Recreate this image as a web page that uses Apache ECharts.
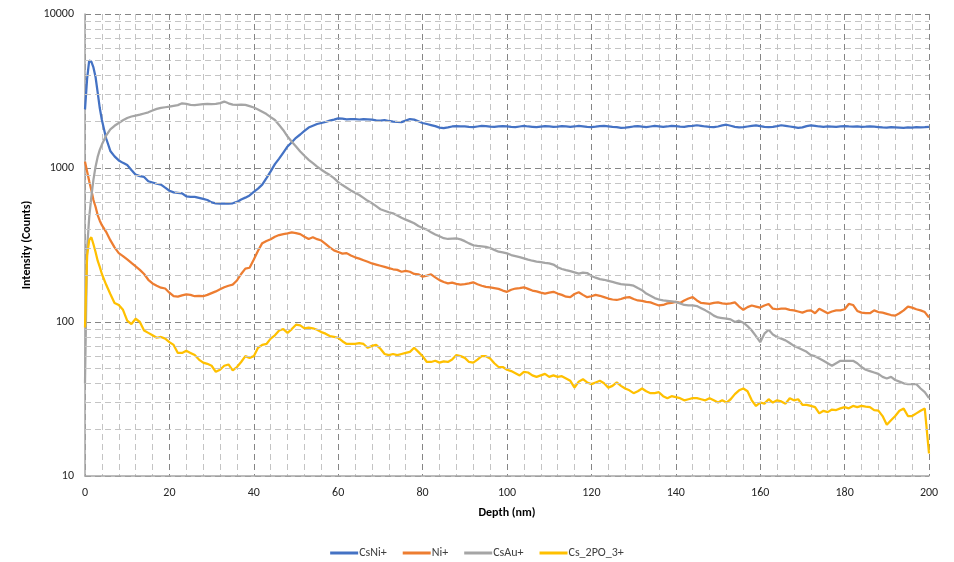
<!DOCTYPE html>
<html>
<head>
<meta charset="utf-8">
<script src="https://cdn.jsdelivr.net/npm/echarts@6/dist/echarts.min.js"></script>
<style>
  html, body { margin: 0; padding: 0; background: #fff; }
  #chart { width: 954px; height: 562px; }
</style>
</head>
<body>
<div id="chart"></div>
<script>
// Depth grid (nm): half-nm steps near the surface, then 1 nm steps.
const depth = [0, 0.5, 1, 1.5, 2, 2.5, 3, 3.5];
for (let d = 4; d <= 200; d++) depth.push(d);

const seriesNames = ['CsNi+', 'Ni+', 'CsAu+', 'Cs_2PO_3+'];

const csNi = [
  2400, 3800, 5000, 4900, 4500, 3900, 3100, 2450,
  2050, 1560, 1290, 1190, 1120, 1080,                          // 4-9
  1045, 970, 905, 885, 875, 820, 805, 790, 780, 745,            // 10-19
  712, 695, 690, 684, 655, 650, 650, 640, 630, 620,             // 20-29
  598, 590, 588, 586, 588, 590, 602, 625, 642, 664,             // 30-39
  700, 735, 780, 860, 950, 1060, 1150, 1260, 1380, 1470,        // 40-49
  1570, 1650, 1740, 1830, 1880, 1930, 1960, 1990, 2030, 2060,   // 50-59
  2100, 2090, 2070, 2080, 2075, 2065, 2080, 2070, 2060, 2040,   // 60-69
  2030, 2050, 2020, 2000, 1990, 1985, 2030, 2080, 2060, 2010,   // 70-79
  1960, 1930, 1900, 1870, 1830, 1815, 1835, 1860, 1870, 1865,   // 80-89
  1860, 1850, 1845, 1860, 1875, 1870, 1855, 1850, 1860, 1870,   // 90-99
  1865, 1850, 1845, 1860, 1875, 1860, 1850, 1840, 1855, 1870,   // 100-109
  1860, 1850, 1855, 1870, 1860, 1850, 1860, 1875, 1865, 1850,   // 110-119
  1845, 1855, 1870, 1880, 1865, 1850, 1840, 1825, 1830, 1845,   // 120-129
  1860, 1870, 1855, 1845, 1860, 1875, 1865, 1850, 1860, 1880,   // 130-139
  1870, 1855, 1850, 1870, 1880, 1895, 1880, 1860, 1850, 1845,   // 140-149
  1860, 1890, 1910, 1880, 1850, 1835, 1845, 1860, 1875, 1890,   // 150-159
  1870, 1850, 1840, 1850, 1870, 1895, 1880, 1860, 1840, 1820,   // 160-169
  1835, 1870, 1890, 1880, 1860, 1850, 1860, 1855, 1850, 1860,   // 170-179
  1870, 1860, 1855, 1860, 1850, 1855, 1865, 1855, 1845, 1835,   // 180-189
  1830, 1840, 1835, 1830, 1825, 1835, 1830, 1840, 1835, 1840,   // 190-199
  1850                                                          // 200
];

const ni = [
  1100, 950, 820, 720, 620, 560, 495, 455,
  425, 385, 340, 305, 280, 268,
  255, 242, 230, 218, 205, 188, 178, 172, 167, 165,
  155, 147, 146, 149, 151, 150, 147, 148, 147, 150,
  154, 158, 163, 168, 172, 175, 186, 205, 222, 225,
  255, 290, 325, 336, 345, 358, 367, 372, 376, 382,
  378, 372, 358, 346, 355, 345, 338, 322, 305, 292,
  285, 278, 280, 270, 263, 258, 252, 246, 240, 236,
  232, 228, 224, 220, 218, 212, 215, 212, 205, 204,
  197, 200, 204, 195, 187, 182, 178, 180, 177, 175,
  176, 178, 181, 176, 172, 169, 168, 166, 164, 160,
  157, 162, 165, 166, 168, 164, 160, 158, 155, 153,
  155, 157, 153, 150, 146, 145, 152, 156, 150, 145,
  147, 150, 148, 145, 142, 140, 139, 141, 144, 145,
  141, 138, 137, 135, 134, 131, 128, 129, 132, 133,
  135, 133, 138, 142, 145, 138, 133, 132, 131, 133,
  134, 132, 131, 132, 134, 126, 120, 125, 128, 126,
  124, 128, 131, 122, 121, 122, 122, 120, 119, 117,
  115, 118, 119, 114, 122, 118, 114, 117, 119, 119,
  121, 131, 129, 118, 115, 114, 114, 119, 116, 115,
  113, 111, 110, 114, 119, 126, 124, 121, 119, 116,
  107
];

const csAu = [
  40, 300, 480, 650, 840, 1020, 1180, 1310,
  1420, 1620, 1780, 1880, 1960, 2040,
  2110, 2160, 2190, 2220, 2260, 2300, 2360, 2420, 2460, 2480,
  2500, 2530, 2560, 2630, 2610, 2570, 2560, 2580, 2600, 2610,
  2600, 2610, 2640, 2700, 2630, 2580, 2570, 2580, 2570, 2520,
  2470, 2400, 2320, 2240, 2140, 2050, 1900, 1760, 1600, 1480,
  1380, 1280, 1200, 1130, 1075, 1020, 975, 935, 900, 860,
  810, 775, 745, 715, 690, 668, 640, 612, 590, 565,
  540, 528, 516, 508, 492, 476, 462, 450, 438, 420,
  408, 398, 382, 370, 360, 350, 346, 348, 349, 344,
  335, 324, 315, 312, 310, 308, 302, 294, 286, 283,
  279, 272, 268, 264, 259, 254, 250, 247, 245, 242,
  240, 236, 227, 221, 217, 214, 210, 206, 209, 208,
  199, 194, 190, 188, 185, 182, 179, 176, 175, 174,
  172, 166, 161, 153, 148, 143, 140, 138, 137, 136,
  135, 132, 129, 128, 128, 127, 123, 119, 115, 110,
  107, 106, 105, 104, 100, 102, 99, 94, 88, 81,
  74, 84, 89, 83, 80, 78, 76, 73, 70, 68,
  66, 64, 61, 60, 58, 56, 54, 52, 54, 56,
  56, 56, 56, 54, 51, 49, 48, 47, 46, 44,
  43, 44, 42, 41, 40, 39.5, 39.5, 39.5, 37, 35,
  32
];

const cs2po3 = [
  92, 270, 340, 355, 320, 285, 250, 228,
  205, 175, 152, 133, 129, 120,
  102, 97, 105, 100, 88, 85, 82, 79, 80, 78,
  74, 71, 63, 63, 65, 63, 61, 57, 54.5, 53.5,
  52, 47.5, 49, 52, 53, 48.5, 51, 55, 60, 58.5,
  60, 68, 71, 72, 78, 82, 88, 90, 85, 90,
  96, 95, 91, 92, 91, 89, 86, 84, 81, 80,
  79, 75, 72, 72, 72, 73, 72, 68, 70, 71,
  67, 62, 61, 62, 61, 62, 63, 64, 68, 64,
  60, 55, 55, 56, 54.5, 55.5, 55, 57, 61, 60,
  58.5, 55, 54.5, 57, 60, 60, 58, 54, 51, 51,
  49, 48, 46.5, 45, 47.5, 47, 45, 44, 45, 46,
  44, 45, 44, 44.5, 43, 41.5, 37.5, 41, 42.5, 40.5,
  39.5, 40.5, 41.5, 40, 37.5, 38.5, 40.5, 38.5, 37, 36,
  34.5, 35.5, 37, 35.5, 34.5, 34.5, 35, 33, 32, 33,
  32.5, 32, 31, 31.5, 32, 32, 31.5, 31, 32, 31,
  30, 31, 30, 31.5, 34, 36, 37, 35.5, 31, 28.5,
  30, 29.5, 31.5, 30, 31, 30.5, 29.5, 32, 31, 31.5,
  29, 29, 28.5, 28, 25.5, 26.5, 26, 27, 26.8, 27.5,
  28, 27.5, 28.5, 28, 28.5, 28.2, 28, 26.8, 26.6, 24.5,
  21.5, 23, 24.5, 26.5, 27.4, 24.5, 24.5, 25.5, 26.5, 27.4,
  14
];

const seriesValues = [csNi, ni, csAu, cs2po3];
const seriesColors = ['#4472C4', '#ED7D31', '#A5A5A5', '#FFC000'];

// Intermediate log gridlines at 2..9 within each decade.
const minorLevels = [];
[10, 100, 1000].forEach(base => {
  for (let k = 2; k <= 9; k++) minorLevels.push(base * k);
});

const FONT = 'Carlito, Calibri, Lato, sans-serif';
const majorGrid = { color: '#858585', width: 1, type: [6, 4] };
const minorGrid = { color: '#c4c4c4', width: 1, type: [6, 4] };

const lineSeries = seriesNames.map((name, i) => ({
  name,
  type: 'line',
  data: depth.map((d, j) => [d, seriesValues[i][j]]),
  showSymbol: false,
  symbol: 'none',
  smooth: false,
  z: 3,
  lineStyle: { color: seriesColors[i], width: 2.25 },
  itemStyle: { color: seriesColors[i] }
}));

// Helper series carrying the log-scale minor gridlines beneath the data.
lineSeries.push({
  name: 'minor-grid',
  type: 'line',
  data: [],
  z: 1,
  silent: true,
  markLine: {
    silent: true,
    symbol: 'none',
    label: { show: false },
    animation: false,
    lineStyle: minorGrid,
    data: minorLevels.map(v => ({ yAxis: v }))
  }
});

const chart = echarts.init(document.getElementById('chart'), null, { renderer: 'canvas' });
chart.setOption({
  animation: false,
  backgroundColor: '#ffffff',
  textStyle: { fontFamily: FONT },
  grid: { left: 85, right: 25, top: 14, bottom: 86, containLabel: false },
  legend: {
    data: seriesNames,
    bottom: -2,
    left: 'center',
    icon: 'rect',
    itemWidth: 28,
    itemHeight: 3,
    itemGap: 16,
    textStyle: { fontFamily: FONT, fontSize: 12, color: '#404040', padding: [0, 0, 0, -4] }
  },
  xAxis: {
    type: 'value',
    min: 0,
    max: 200,
    interval: 20,
    name: 'Depth (nm)',
    nameLocation: 'middle',
    nameGap: 31,
    nameTextStyle: { fontFamily: FONT, fontSize: 12, fontWeight: 'bold', color: '#000' },
    axisLine: { show: true, lineStyle: { color: '#a6a6a6', width: 1.5 } },
    axisTick: { show: false },
    axisLabel: { fontFamily: FONT, fontSize: 12, color: '#262626', margin: 11 },
    splitLine: { show: true, lineStyle: majorGrid },
    minorTick: { show: false, splitNumber: 5 },
    minorSplitLine: { show: true, lineStyle: minorGrid }
  },
  yAxis: {
    type: 'log',
    logBase: 10,
    min: 10,
    max: 10000,
    name: 'Intensity (Counts)',
    nameLocation: 'middle',
    nameGap: 46,
    nameTextStyle: { fontFamily: FONT, fontSize: 12, fontWeight: 'bold', color: '#000' },
    axisLine: { show: true, lineStyle: { color: '#a6a6a6', width: 1.5 } },
    axisTick: { show: false },
    axisLabel: {
      fontFamily: FONT, fontSize: 12, color: '#262626', margin: 11,
      formatter: v => String(Math.round(v))
    },
    splitLine: { show: true, lineStyle: majorGrid }
  },
  series: lineSeries
});
</script>
</body>
</html>
